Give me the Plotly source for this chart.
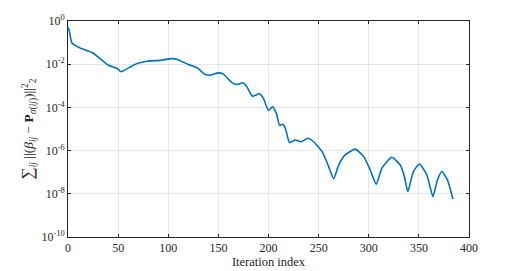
import plotly.graph_objects as go

iteration = [0, 1, 4, 12, 24, 32, 40.5, 49, 53, 60.5, 69, 79, 92, 104, 109, 120, 129, 137, 142,
             150, 155, 163.5, 168.5, 174.5, 178.5, 184, 191, 195, 200, 204, 208, 211, 214.5, 217,
             221, 226.5, 232.5, 239, 245, 253.5, 260, 265, 270, 276.5, 286.5, 295, 301.5, 307.5,
             313, 323, 331.5, 335.5, 339, 344.5, 350.5, 358, 364, 368.5, 373, 378.5, 384]
residual = [0.501, 0.398, 0.0955, 0.0562, 0.0347, 0.0182, 8.91e-3, 6.31e-3, 4.47e-3, 6.76e-3,
            0.0107, 0.0138, 0.0151, 0.0182, 0.0166, 9.77e-3, 6.76e-3, 3.31e-3, 3.09e-3,
            3.98e-3, 3.47e-3, 1.41e-3, 1.15e-3, 1.38e-3, 8.91e-4, 3.31e-4, 4.27e-4, 2.57e-4,
            7.24e-5, 1.07e-4, 5.01e-5, 1.48e-5, 1.66e-5, 1.0e-5, 2.34e-6, 3.09e-6, 2.57e-6,
            3.72e-6, 2.57e-6, 8.91e-7, 1.82e-7, 4.9e-8, 2.14e-7, 6.31e-7, 1.17e-6, 5.25e-7,
            1.26e-7, 2.75e-8, 1.51e-7, 4.9e-7, 2.14e-7, 6.31e-8, 1.26e-8, 1.07e-7, 2.4e-7,
            7.41e-8, 7.41e-9, 4.37e-8, 1.07e-7, 4.37e-8, 5.75e-9]

x_ticks = [0, 50, 100, 150, 200, 250, 300, 350, 400]
y_ticks = [1e0, 1e-2, 1e-4, 1e-6, 1e-8, 1e-10]
y_tick_text = ["10<sup>0</sup>", "10<sup>-2</sup>", "10<sup>-4</sup>", "10<sup>-6</sup>",
               "10<sup>-8</sup>", "10<sup>-10</sup>"]

font = "Liberation Serif"
axis_col = "#262626"

fig = go.Figure(go.Scatter(x=iteration, y=residual, mode="lines",
                           line=dict(color="#0072BD", width=1.6, shape="spline", smoothing=0.5),
                           showlegend=False))

fig.update_layout(
    width=518, height=271,
    margin=dict(l=68, r=49, t=21, b=34),
    paper_bgcolor="white", plot_bgcolor="white",
    font=dict(family=font, size=12, color=axis_col),
)
fig.update_xaxes(range=[0, 400], tickvals=x_ticks, ticks="inside", ticklen=3,
                 tickcolor=axis_col, showline=True, linecolor=axis_col, linewidth=0.8,
                 mirror="ticks", showgrid=True, gridcolor="#e6e6e6", gridwidth=0.8,
                 zeroline=False, tickfont=dict(size=12, family=font), automargin=False,
                 title=dict(text="Iteration index", font=dict(size=12.5, family=font), standoff=0))
fig.update_yaxes(type="log", range=[-10, 0], tickvals=y_ticks, ticktext=y_tick_text,
                 ticks="inside", ticklen=3, tickcolor=axis_col, showline=True,
                 linecolor=axis_col, linewidth=0.8, mirror="ticks", showgrid=True,
                 gridcolor="#e6e6e6", gridwidth=0.8, zeroline=False,
                 tickfont=dict(size=12, family=font), automargin=False,
                 title=dict(text="<span style='font-size:17px'>∑</span><sub><i>ij</i></sub> ||(<i>β</i><sub><i>ij</i></sub> − <b>P</b><sub><i>σ</i>(<i>ij</i>)</sub>)||<sup>2</sup><sub>2</sub>",
                            font=dict(size=13.5, family=font), standoff=4))

fig.write_html("out.html", config={"displayModeBar": False},
               post_script="document.body.style.margin='0';")
